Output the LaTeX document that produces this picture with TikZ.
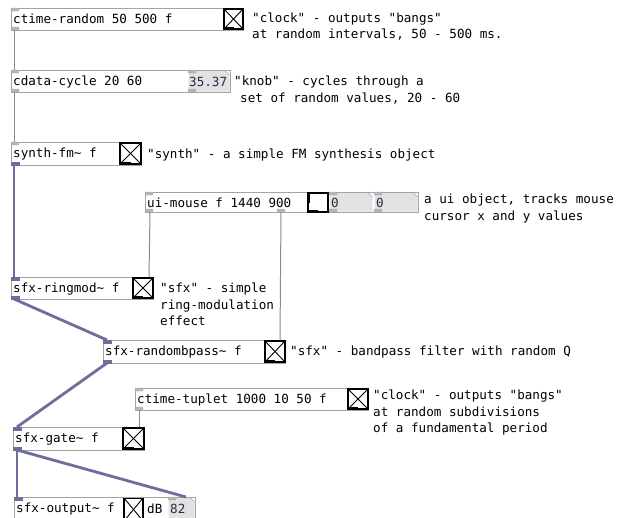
\documentclass[tikz,border=0pt]{standalone}
\usepackage{fontspec}
\newfontfamily\pdmono{DejaVu Sans Mono}
\definecolor{boxgray}{HTML}{A4A4A4}
\definecolor{cordgray}{HTML}{8C8C8C}
\definecolor{sigcol}{HTML}{6E6E9C}
\definecolor{numfill}{HTML}{E2E2E2}
\definecolor{tabcol}{HTML}{B4BAB0}
\definecolor{numtext}{HTML}{2A2A48}
\tikzset{
  objbox/.style={draw=boxgray, fill=white, line width=0.8pt, inner sep=0pt, outer sep=0pt, anchor=north west},
  togbox/.style={draw=black, fill=white, line width=1.2pt, inner sep=0pt, outer sep=0pt, anchor=north west},
  pdtext/.style={font=\pdmono\fontsize{12.6}{14}\selectfont, inner sep=0pt, anchor=base west, text=black},
  numtxt/.style={pdtext, text=numtext},
  ctl/.style={draw=cordgray, line width=1pt},
  sig/.style={draw=sigcol, line width=2.8pt},
  tab/.style={fill=tabcol, draw=boxgray, line width=0.4pt, rounded corners=0.8pt},
  sigtab/.style={fill=sigcol, draw=sigcol, line width=0.4pt},
}
% object box: name, x1, y1, x2, y2, text
\newcommand\pdobj[6]{%
  \node[objbox, minimum width={#4-#2}, minimum height={#5-#3}] (#1) at (#2,#3) {};
  \node[pdtext] (#1-t) at (#2+2,#3+15.5) {#6};
}
% toggle: name, x1, y1, x2, y2
\newcommand\pdtog[5]{%
  \node[togbox, minimum width={#4-#2}, minimum height={#5-#3}] (#1) at (#2,#3) {};
  \draw[line width=0.9pt, shorten >=1.5pt, shorten <=1.5pt] (#1.north west) -- (#1.south east);
  \draw[line width=0.9pt, shorten >=1.5pt, shorten <=1.5pt] (#1.north east) -- (#1.south west);
  \draw[line width=2.2pt] ([xshift=0.6pt,yshift=1pt]#1.south west) -- ([yshift=1pt]#1.south);
}
% number box fill: x1, y1, x2, y2
\newcommand\pdnum[4]{%
  \fill[numfill] (#1+0.5,#2+0.5) -- (#3-5,#2+0.5) -- (#3-0.5,#2+5) -- (#3-0.5,#4-0.5) -- (#1+0.5,#4-0.5) -- cycle;
  \draw[boxgray, line width=0.6pt] (#3-5,#2+0.5) -- (#3-0.5,#2+5);
}
\newcommand\pdtab[2]{\draw[tab] (#1,#2-1.5) rectangle (#1+8,#2+1.5);}
\newcommand\pdstab[2]{\draw[sigtab] (#1,#2-1.5) rectangle (#1+8,#2+1.5);}
\begin{document}
\begin{tikzpicture}[x=1pt,y=-1pt]
\useasboundingbox (0,0) rectangle (621,517);
\fill[white] (0,0) rectangle (621,517);

\begin{scope}
% ctime-random
\pdobj{cr}{11}{8}{243}{30}{ctime-random 50 500 f}
\pdtog{crT}{224}{9}{243}{29}
\pdtab{11}{9.5}\pdtab{11}{28.5}
% cdata-cycle
\pdobj{cd}{11}{70}{230}{92}{cdata-cycle 20 60}
\pdnum{188}{70}{230}{92}
\draw[boxgray, line width=0.8pt] (cd.north west) rectangle (cd.south east);
\node[numtxt] (cdN) at (189,86) {35.37};
\pdtab{11}{71.5}\pdtab{11}{90.5}\pdtab{188}{71.5}\pdtab{188}{90.5}
% synth-fm~
\pdobj{sf}{11}{142}{141}{165}{synth-fm\textasciitilde{} f}
\pdtog{sfT}{120}{143}{141}{164}
\pdtab{11}{143.5}\pdstab{11}{163.5}
% ui-mouse
\pdobj{um}{145}{192}{418}{212}{ui-mouse f 1440 900}
\pdnum{329}{192}{373}{212}
\pdnum{374}{192}{418}{212}
\draw[boxgray, line width=0.8pt] (um.north west) rectangle (um.south east);
\node[togbox, minimum width=20, minimum height=19] (umL) at (308,193) {};
\draw[line width=2.2pt] ([xshift=0.6pt,yshift=1pt]umL.south west) -- ([yshift=1pt]umL.south);
\draw[line width=2.2pt] ([xshift=1pt,yshift=-0.6pt]umL.north west) -- ([xshift=1pt]umL.west);
\node[numtxt] (umN1) at (331,207) {0};
\node[numtxt] (umN2) at (376,207) {0};
\pdtab{145}{193.5}\pdtab{145}{210.5}\pdtab{277}{210.5}
\pdtab{329}{193.5}\pdtab{329}{210.5}\pdtab{374}{193.5}\pdtab{374}{210.5}
% sfx-ringmod~
\pdobj{rm}{11}{277}{153}{299}{sfx-ringmod\textasciitilde{} f}
\pdtog{rmT}{133}{278}{153}{298}
\pdstab{11}{278.5}\pdstab{11}{297.5}
% sfx-randombpass~
\pdobj{rb}{103}{340}{285}{363}{sfx-randombpass\textasciitilde{} f}
\pdtog{rbT}{265}{341}{285}{362}
\pdstab{103}{341.5}\pdstab{103}{361.5}
% ctime-tuplet
\pdobj{ct}{135}{388}{368}{410}{ctime-tuplet 1000 10 50 f}
\pdtog{ctT}{348}{389}{368}{409}
\pdtab{135}{389.5}\pdtab{135}{408.5}
% sfx-gate~
\pdobj{sg}{13}{427}{144}{450}{sfx-gate\textasciitilde{} f}
\pdtog{sgT}{123}{428}{144}{449}
\pdstab{13}{428.5}\pdstab{13}{448.5}
% sfx-output~
\pdobj{so}{14}{497}{195}{522}{sfx-output\textasciitilde{} f}
\pdtog{soT}{124}{498}{143}{521}
\node[pdtext] (sodB) at (147,513) {dB};
\pdnum{168}{497}{195}{522}
\draw[boxgray, line width=0.8pt] (so.north west) rectangle (so.south east);
\node[numtxt] (soN) at (170,513) {82};
\pdstab{14}{498.5}\pdtab{168}{498.5}
\end{scope}

% ---------- connectors ----------
\draw[ctl] ([xshift=3pt]cr.south west) -- ([xshift=3pt]cd.north west);
\draw[ctl] ([xshift=3pt]cd.south west) -- ([xshift=3pt]sf.north west);
\draw[sig] ([xshift=3pt]sf.south west) -- ([xshift=3pt]rm.north west);
\draw[ctl] ([xshift=5pt]um.south west) -- ([xshift=-4pt]rm.north east);
\draw[ctl] ([xshift=136pt]um.south west) -- ([xshift=-5pt]rb.north east);
\draw[sig] ([xshift=3pt]rm.south west) -- ([xshift=4pt]rb.north west);
\draw[sig] ([xshift=4pt]rb.south west) -- ([xshift=4pt]sg.north west);
\draw[ctl] ([xshift=4pt]ct.south west) -- ([xshift=-5pt]sg.north east);
\draw[sig] ([xshift=4pt]sg.south west) -- ([xshift=3pt]so.north west);
\draw[sig] ([xshift=4pt]sg.south west) -- ([xshift=172pt]so.north west);

% ---------- comments ----------
\node[pdtext] (c1a) at (252,22) {"clock" - outputs "bangs"};
\node[pdtext] (c1b) at (252,38) {at random intervals, 50 - 500 ms.};
\node[pdtext] (c2a) at (234,85) {"knob" - cycles through a};
\node[pdtext] (c2b) at (240,102) {set of random values, 20 - 60};
\node[pdtext] (c3) at (147,158) {"synth" - a simple FM synthesis object};
\node[pdtext] (c4a) at (424,203) {a ui object, tracks mouse};
\node[pdtext] (c4b) at (424,220) {cursor x and y values};
\node[pdtext] (c5a) at (160,292) {"sfx" - simple};
\node[pdtext] (c5b) at (160,309) {ring-modulation};
\node[pdtext] (c5c) at (160,325) {effect};
\node[pdtext] (c6) at (290,355) {"sfx" - bandpass filter with random Q};
\node[pdtext] (c7a) at (373,399) {"clock" - outputs "bangs"};
\node[pdtext] (c7b) at (373,416) {at random subdivisions};
\node[pdtext] (c7c) at (373,432) {of a fundamental period};
\end{tikzpicture}
\end{document}
